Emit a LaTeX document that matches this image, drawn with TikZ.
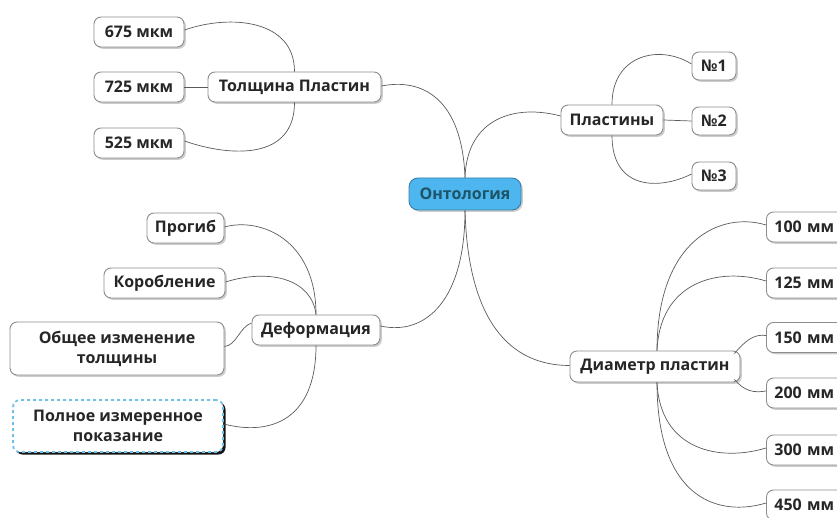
\documentclass[tikz,border=0pt]{standalone}
\usepackage{fontspec}
\setmainfont{Open Sans}
\usetikzlibrary{shadows}
\definecolor{linec}{HTML}{5A5A5A}
\definecolor{boxc}{HTML}{8C8C8C}
\definecolor{ontofill}{HTML}{4DB6EE}
\definecolor{ontotext}{HTML}{1D5468}
\definecolor{dashc}{HTML}{6FC0E6}
\begin{document}
\begin{tikzpicture}[x=1pt,y=-1pt,
  box/.style={draw=boxc, rounded corners=7pt, fill=white, line width=0.9pt,
    inner sep=0pt, minimum height=30pt, align=center,
    font=\fontsize{16}{20}\selectfont\bfseries, text=black!85,
    drop shadow={opacity=0.4, shadow xshift=1.8pt, shadow yshift=-1.8pt}},
  mmbox/.style={box, minimum width=90pt, text width=80pt, align=left, anchor=west},
  link/.style={draw=linec, line width=0.7pt}]
\useasboundingbox (0,0) rectangle (837,518);

\node[box, fill=ontofill, text=ontotext, draw=ontofill!70!black, minimum width=112pt, minimum height=32pt, rounded corners=9pt] (onto) at (465,194) {Онтология};

\node[box, minimum width=173pt] (thick) at (294.5,87) {Толщина Пластин};
\node[box, minimum width=90pt] (t675) at (139,32) {675 мкм};
\node[box, minimum width=90pt] (t725) at (139,87) {725 мкм};
\node[box, minimum width=90pt] (t525) at (139,143) {525 мкм};

\node[box, minimum width=102pt] (plates) at (612,120) {Пластины};
\node[box, minimum width=44pt, minimum height=28pt] (n1) at (714,66) {№1};
\node[box, minimum width=44pt, minimum height=28pt] (n2) at (714,121) {№2};
\node[box, minimum width=44pt, minimum height=28pt] (n3) at (714,176) {№3};

\node[box, minimum width=128pt] (deform) at (316,330) {Деформация};
\node[box, minimum width=77pt] (bend) at (185.5,228) {Прогиб};
\node[box, minimum width=121pt] (warp) at (164.5,283) {Коробление};
\node[box, minimum width=214pt, minimum height=53pt] (total) at (117,348.5) {Общее изменение\\толщины};
\node[box, draw=dashc, dashed, line width=1.8pt, minimum width=210pt, minimum height=52pt,
  drop shadow={opacity=0.9, shadow xshift=2.5pt, shadow yshift=-2.5pt, fill=black}] (full) at (118,426) {Полное измеренное\\показание};

\node[box, minimum width=170pt, minimum height=31pt] (diam) at (655,366.5) {Диаметр пластин};
\node[mmbox] (d100) at (766,227) {\hspace*{3pt}100 мм};
\node[mmbox] (d125) at (766,283) {\hspace*{3pt}125 мм};
\node[mmbox] (d150) at (766,337.5) {\hspace*{3pt}150 мм};
\node[mmbox] (d200) at (766,393) {\hspace*{3pt}200 мм};
\node[mmbox] (d300) at (766,450) {\hspace*{3pt}300 мм};
\node[mmbox] (d450) at (766,505) {\hspace*{3pt}450 мм};

% central links
\draw[link] (onto.north) .. controls +(-3,-80) and +(40,-8) .. ([yshift=1pt]thick.east);
\draw[link] (onto.north) .. controls +(2,-60) and +(-45,-12) .. ([yshift=4pt]plates.west);
\draw[link] (onto.south) .. controls +(0,90) and +(45,10) .. ([yshift=4pt]deform.east);
\draw[link] (onto.south) .. controls +(3,110) and +(-60,0) .. ([yshift=1pt]diam.west);

% thickness
\draw[link] (thick.north) .. controls +(0,-52) and +(46,-16) .. ([yshift=2pt]t675.east);
\draw[link] (thick.south) .. controls +(0,58) and +(46,16) .. ([yshift=2pt]t525.east);
\draw[link] (thick.west) -- (t725.east);

% plates
\draw[link] (plates.north) .. controls +(0,-50) and +(-32,-20) .. ([yshift=2pt]n1.west);
\draw[link] (plates.south) .. controls +(0,55) and +(-32,16) .. ([yshift=2pt]n3.west);
\draw[link] (plates.east) -- (n2.west);

% deformation
\draw[link] (deform.north) .. controls +(0,-75) and +(36,-10) .. ([yshift=1pt]bend.east);
\draw[link] (deform.north) .. controls +(-4,-35) and +(45,-14) .. ([yshift=1pt]warp.east);
\draw[link] ([yshift=7pt]deform.west) .. controls +(-12,4) and +(12,-1) .. ([yshift=2pt]total.east);
\draw[link] (deform.south) .. controls +(0,75) and +(46,12) .. ([yshift=2pt]full.east);

% diameter
\draw[link] ([xshift=2pt]diam.north) .. controls +(0,-110) and +(-46,-14) .. ([yshift=2pt]d100.west);
\draw[link] ([xshift=2pt]diam.north) .. controls +(3,-70) and +(-46,-14) .. ([yshift=2pt]d125.west);
\draw[link] ([xshift=-6pt,yshift=-3pt]diam.north east) .. controls +(10,-12) and +(-12,-2) .. ([yshift=2pt]d150.west);
\draw[link] ([xshift=-6pt,yshift=3pt]diam.south east) .. controls +(10,12) and +(-12,2) .. ([yshift=2pt]d200.west);
\draw[link] ([xshift=2pt]diam.south) .. controls +(3,68) and +(-46,14) .. ([yshift=2pt]d300.west);
\draw[link] ([xshift=2pt]diam.south) .. controls +(0,118) and +(-46,14) .. ([yshift=2pt]d450.west);
\end{tikzpicture}
\end{document}
